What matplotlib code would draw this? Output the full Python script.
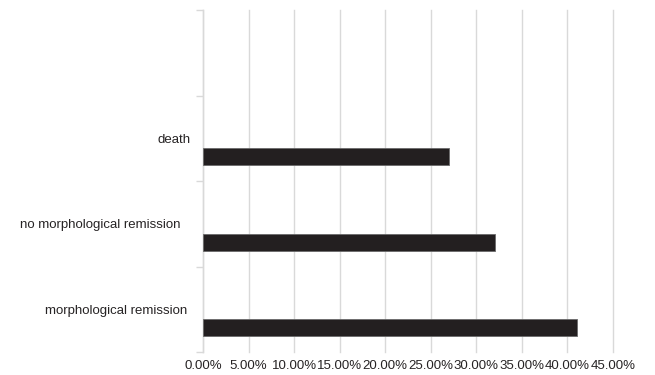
import matplotlib
matplotlib.use("Agg")
import matplotlib.pyplot as plt
import matplotlib.transforms as mtransforms
import numpy as np

# Outcome categories, bottom to top (top slot is an empty category)
categories = ["morphological remission", "no morphological remission", "death", ""]
shares = [41.0, 32.0, 27.0]          # percent of patients
x_ticks = [0, 5, 10, 15, 20, 25, 30, 35, 40, 45]

plt.rcParams["font.family"] = ["Liberation Sans", "DejaVu Sans"]

fig = plt.figure(figsize=(6.55, 3.75), dpi=100)
ax = fig.add_axes([203 / 655, 1 - 352 / 375, 410 / 655, 342 / 375])

grid_col = "#d9d9d9"
text_col = "#262324"
bar_col = "#231f20"

pos = np.arange(len(categories))
bar_h = 0.2
ax.barh(pos[:len(shares)] - 0.215, shares, height=bar_h, color=bar_col,
        edgecolor="#6a6a6a", linewidth=0.6, zorder=3)

ax.set_xlim(0, 45)
ax.set_ylim(-0.5, len(categories) - 0.5)

ax.set_xticks(x_ticks)
ax.set_xticklabels([f"{t:.2f}%" for t in x_ticks])
ax.xaxis.grid(True, color=grid_col, linewidth=1.0, zorder=0)
for gl in ax.get_xgridlines():
    gl.set_clip_on(False)
ax.tick_params(axis="x", length=0, pad=5.5, labelsize=9.5, colors=text_col)

ax.set_yticks(pos)
ax.set_yticklabels(categories)
ax.set_yticks(np.arange(len(categories) + 1) - 0.5, minor=True)
ax.tick_params(axis="y", which="major", length=0, pad=0, labelsize=9.5,
               colors=text_col)
ax.tick_params(axis="y", which="minor", length=5, width=1.0, color=grid_col)

# individual horizontal offsets of the category labels (points)
label_gaps = [11.5, 16.5, 8.9, 0]
for lab, gap in zip(ax.get_yticklabels(), label_gaps):
    lab.set_transform(lab.get_transform() +
                      mtransforms.ScaledTranslation(-gap / 72, 0, fig.dpi_scale_trans))

for side in ("top", "right", "bottom"):
    ax.spines[side].set_visible(False)
ax.spines["left"].set_color(grid_col)
ax.spines["left"].set_linewidth(1.0)

fig.savefig("out.png", dpi=100, facecolor="white")
